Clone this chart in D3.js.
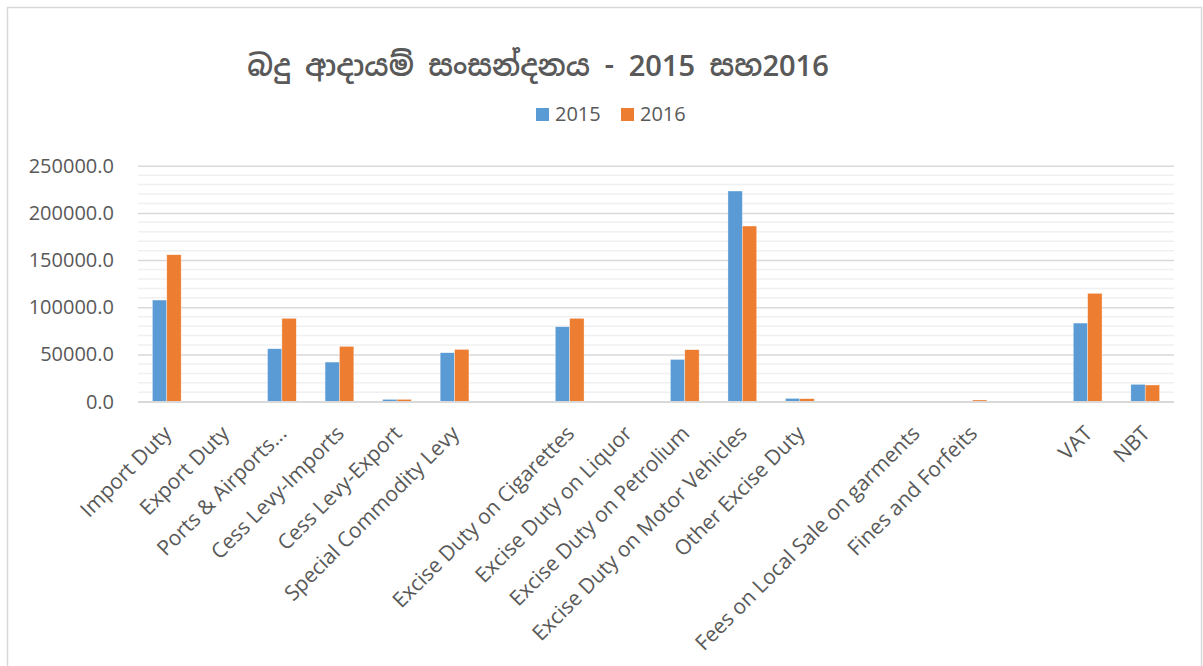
<!DOCTYPE html>
<html>
<head>
<meta charset="utf-8">
<script src="https://cdn.jsdelivr.net/npm/d3@7"></script>
<style>
  html, body { margin: 0; padding: 0; background: #fff; }
  svg { display: block; }
</style>
</head>
<body>
<svg id="chart" width="1203" height="666"></svg>
<script>
// ---- data ----
const categories = [
  "Import Duty", "Export Duty", "Ports & Airports...", "Cess Levy-Imports",
  "Cess Levy-Export", "Special Commodity Levy", "", "Excise Duty on Cigarettes",
  "Excise Duty on Liquor", "Excise Duty on Petrolium", "Excise Duty on Motor Vehicles",
  "Other Excise Duty", "", "Fees on Local Sale on garments", "Fines and Forfeits",
  "", "VAT", "NBT"
];
const values2015 = [107700, 0, 56100, 42000, 2500, 51900, 0, 79400, 0, 44800, 223200, 3500, 0, 0, 400, 0, 83300, 18400];
const values2016 = [155700, 0, 88300, 58600, 2500, 55400, 0, 88300, 0, 55100, 186100, 3200, 0, 0, 1800, 0, 114800, 17700];
const seriesNames = ["2015", "2016"];
const yTicks = [0, 50000, 100000, 150000, 200000, 250000];
const minorTicks = d3.range(0, 250001, 10000);
const titleText = "බදු ආදායම් සංසන්දනය - 2015 සහ2016";

// ---- layout ----
const colors = ["#5B9BD5", "#ED7D31"];
const textColor = "#595959";
const plot = { left: 138, right: 1174, top: 165.7, bottom: 401.7 };
const svg = d3.select("#chart");

// frame
svg.append("rect")
  .attr("x", 7.5).attr("y", 7.5).attr("width", 1194).attr("height", 700)
  .attr("fill", "#fff").attr("stroke", "#d9d9d9").attr("stroke-width", 1.5);

const x = d3.scaleBand()
  .domain(d3.range(categories.length))
  .range([plot.left, plot.right])
  .paddingInner(0.5).paddingOuter(0.25);
const xs = d3.scaleBand().domain(seriesNames).range([0, x.bandwidth()]);
const y = d3.scaleLinear().domain([0, 250000]).range([plot.bottom, plot.top]);

// minor gridlines
svg.append("g").selectAll("line")
  .data(minorTicks.filter(v => v % 50000 !== 0))
  .join("line")
  .attr("x1", plot.left).attr("x2", plot.right)
  .attr("y1", d => y(d)).attr("y2", d => y(d))
  .attr("stroke", "#f0f0f0").attr("stroke-width", 1.5);

// major gridlines via axis
const yAxis = d3.axisLeft(y).tickValues(yTicks)
  .tickSize(-(plot.right - plot.left))
  .tickFormat(d3.format(".1f"))
  .tickPadding(24);
const gy = svg.append("g").attr("transform", `translate(${plot.left},0)`).call(yAxis);
gy.select(".domain").remove();
gy.selectAll(".tick line").attr("stroke", "#d9d9d9").attr("stroke-width", 1.5);
gy.selectAll(".tick text")
  .attr("fill", textColor)
  .style("font-family", "'Open Sans', 'Noto Sans', sans-serif")
  .style("font-size", "20px");

// bars
const groups = svg.append("g").selectAll("g")
  .data(categories.map((c, i) => ({ i, vals: [values2015[i], values2016[i]] })))
  .join("g")
  .attr("transform", d => `translate(${x(d.i)},0)`);
groups.selectAll("rect")
  .data(d => d.vals.map((v, k) => ({ v, k })))
  .join("rect")
  .attr("x", d => xs(seriesNames[d.k]))
  .attr("width", xs.bandwidth())
  .attr("y", d => y(d.v))
  .attr("height", d => y(0) - y(d.v))
  .attr("fill", d => colors[d.k])
  .attr("stroke", "#ffffff").attr("stroke-width", 0.6).attr("stroke-opacity", 0.6);

// x axis line
svg.append("line")
  .attr("x1", plot.left).attr("x2", plot.right)
  .attr("y1", y(0)).attr("y2", y(0))
  .attr("stroke", "#d9d9d9").attr("stroke-width", 1.5);

// x labels
const xAxis = d3.axisBottom(x).tickSize(0).tickFormat(i => categories[i]);
const gx = svg.append("g").attr("transform", `translate(0,${plot.bottom})`).call(xAxis);
gx.select(".domain").remove();
gx.selectAll(".tick text")
  .attr("fill", textColor)
  .style("font-family", "'Open Sans', 'Noto Sans', sans-serif")
  .style("font-size", "21px")
  .attr("text-anchor", "end")
  .attr("y", 0).attr("dy", 0)
  .attr("transform", "translate(6,33) rotate(-45)");

// title
svg.append("text")
  .attr("x", 538).attr("y", 76)
  .attr("text-anchor", "middle")
  .attr("fill", textColor)
  .style("font-family", "'Noto Sans Sinhala', 'Iskoola Pota', 'Noto Sans', sans-serif")
  .style("font-size", "29px")
  .style("font-weight", "600")
  .text(titleText);

// legend
const legend = svg.append("g");
const legendX = [536, 621];
seriesNames.forEach((s, k) => {
  legend.append("rect")
    .attr("x", legendX[k]).attr("y", 108).attr("width", 13).attr("height", 13)
    .attr("fill", colors[k]);
  legend.append("text")
    .attr("x", legendX[k] + 19).attr("y", 121)
    .attr("fill", textColor)
    .style("font-family", "'Open Sans', 'Noto Sans', sans-serif")
    .style("font-size", "20px")
    .text(s);
});
</script>
</body>
</html>
